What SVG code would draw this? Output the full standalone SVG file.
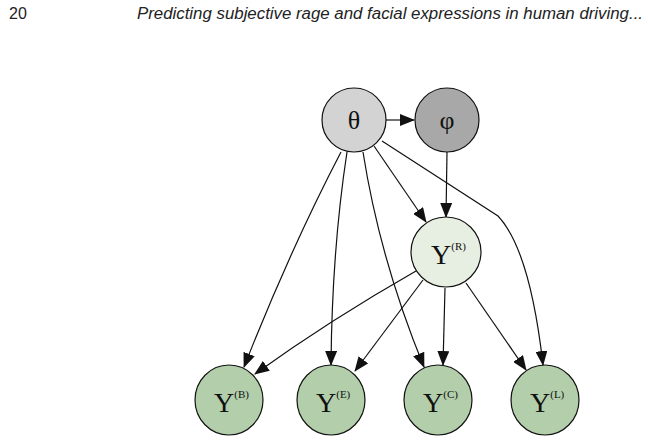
<svg xmlns="http://www.w3.org/2000/svg" width="648" height="442" viewBox="0 0 648 442">
<style>
.hd{font-family:"Liberation Sans",Arial,sans-serif;font-size:16px;fill:#222}
.n{stroke:#111;stroke-width:1.2}
.t{font-family:"Liberation Serif","DejaVu Serif",serif;font-size:26px;fill:#111;text-anchor:middle}
.y{font-family:"Liberation Serif",serif;font-size:28px;fill:#111}
.s{font-size:11px}
.e{fill:none;stroke:#111;stroke-width:1.2;marker-end:url(#a)}
</style>
<defs><marker id="a" markerWidth="15" markerHeight="12" refX="14" refY="6" orient="auto" markerUnits="userSpaceOnUse"><path d="M0,0 L15,6 L0,12 Z" fill="#111"/></marker></defs>
<rect width="648" height="442" fill="#fff"/>
<text class="hd" x="9" y="19">20</text>
<text class="hd" x="137" y="19" font-style="italic" textLength="506" lengthAdjust="spacingAndGlyphs">Predicting subjective rage and facial expressions in human driving...</text>
<g id="connectors">
<path class="e" d="M386,120 L414,120"/>
<path class="e" d="M447,152 L446,217"/>
<path class="e" d="M374,146 L426,222"/>
<path class="e" d="M341,152 Q290,250 244,367"/>
<path class="e" d="M347,152 Q332,250 331,365"/>
<path class="e" d="M363,152 Q380,260 424,367"/>
<path class="e" d="M382,141 L498,216 Q530,250 543,365"/>
<path class="e" d="M416,271 Q330,320 255,374"/>
<path class="e" d="M423,280 L355,371"/>
<path class="e" d="M445,288 L443,365"/>
<path class="e" d="M466,283 L526,370"/>
</g>
<g id="theta"><ellipse class="n" cx="354" cy="120" rx="32" ry="32" fill="#d3d3d3"/><text class="t" x="354" y="129">θ</text></g>
<g id="phi"><ellipse class="n" cx="447" cy="120" rx="32" ry="32" fill="#a8a8a8"/><text class="t" x="447" y="129">φ</text></g>
<g id="YR"><ellipse class="n" cx="446" cy="252" rx="35" ry="35" fill="#e6efe2"/><text class="y" x="431" y="264">Y<tspan class="s" dy="-14">(R)</tspan></text></g>
<g id="YB"><ellipse class="n" cx="229" cy="400" rx="34" ry="35" fill="#b2ceaa"/><text class="y" x="214" y="412">Y<tspan class="s" dy="-14">(B)</tspan></text></g>
<g id="YE"><ellipse class="n" cx="331" cy="400" rx="34" ry="35" fill="#b2ceaa"/><text class="y" x="316" y="412">Y<tspan class="s" dy="-14">(E)</tspan></text></g>
<g id="YC"><ellipse class="n" cx="438" cy="400" rx="34" ry="35" fill="#b2ceaa"/><text class="y" x="423" y="412">Y<tspan class="s" dy="-14">(C)</tspan></text></g>
<g id="YL"><ellipse class="n" cx="545" cy="400" rx="34" ry="35" fill="#b2ceaa"/><text class="y" x="530" y="412">Y<tspan class="s" dy="-14">(L)</tspan></text></g>
</svg>
